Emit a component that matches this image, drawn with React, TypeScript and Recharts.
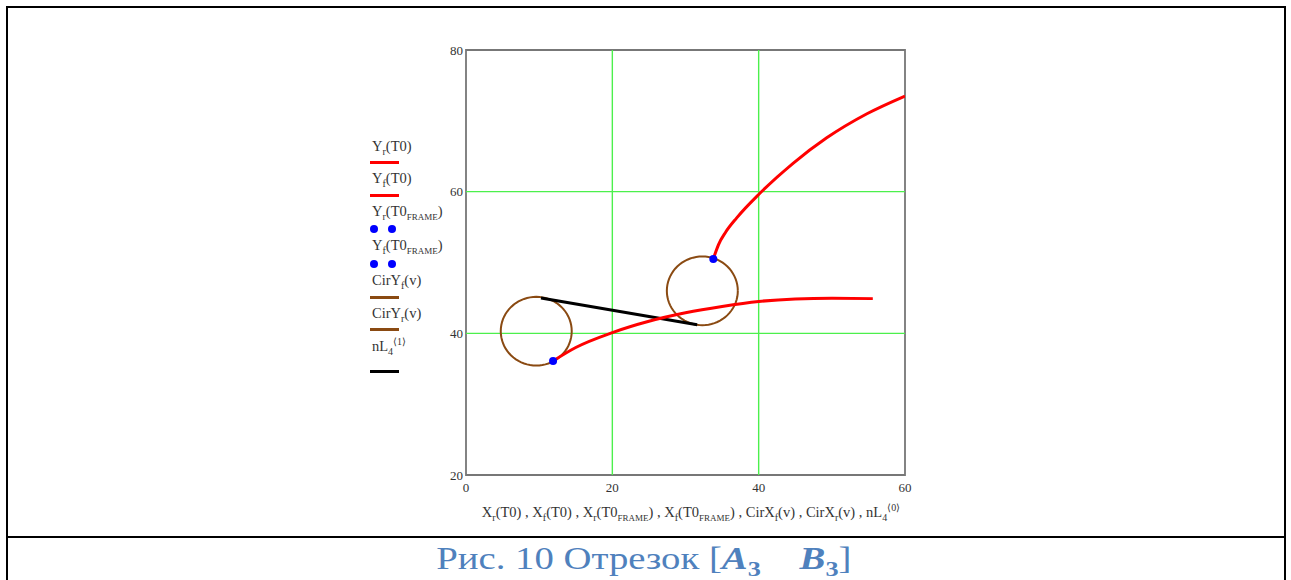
import React from 'react'
import { ComposedChart, Line, Scatter, XAxis, YAxis, ReferenceLine, ReferenceArea } from 'recharts'

// lower red curve (Y_f)
const lowX = [11.9, 15, 20, 25, 30, 35, 40, 45, 50, 55.6]
const lowY = [36.1, 38.0, 40.1, 41.7, 42.9, 43.8, 44.5, 44.85, 44.95, 44.9]

// upper red curve (Y_r)
const upX = [33.8, 34.5, 35.5, 37.0, 40.1, 44.7, 49.3, 54.8, 60.0]
const upY = [50.5, 52.5, 54.3, 56.3, 59.7, 64.0, 67.6, 71.0, 73.5]

// frame points
const frameX = [11.9, 33.8]
const frameY = [36.1, 50.5]

// circles: centre x, centre y, radius
const cirCx = [9.6, 32.3]
const cirCy = [40.3, 46.0]
const cirR = [4.85, 4.85]

// nL4 segment
const segX = [10.25, 31.6]
const segY = [45.0, 41.2]

const xTicks = [0, 20, 40, 60]
const yTicks = [20, 40, 60, 80]
const gridX = [20, 40]
const gridY = [40, 60]

const zip = (xs: number[], ys: number[]) => xs.map((x, i) => ({ x, y: ys[i] }))

function circlePts(i: number) {
  const pts = []
  for (let k = 0; k <= 72; k++) {
    const a = (k / 72) * Math.PI * 2
    pts.push({ x: cirCx[i] + cirR[i] * Math.cos(a), y: cirCy[i] + cirR[i] * Math.sin(a) })
  }
  return pts
}

const RED = '#ff0000'
const BLUE = '#0000ff'
const BROWN = '#8a4a12'
const GRID = '#4cf04c'
const TXT = '#333333'
const SERIF = '"Liberation Serif", "Times New Roman", serif'

const sub = { fontSize: 10, verticalAlign: 'sub' as const, lineHeight: 0 }
const sc = { fontSize: 9 }
const sup = { fontSize: 10, verticalAlign: 'super' as const, lineHeight: 0 }

function Dot(props: any) {
  const { cx, cy } = props
  return <circle cx={cx} cy={cy} r={4} fill={BLUE} />
}

function Swatch({ y, color, dots }: { y: number; color: string; dots?: boolean }) {
  if (dots) {
    return (
      <>
        <div style={{ position: 'absolute', left: 370, top: y - 4, width: 8, height: 8, borderRadius: 4, background: color }} />
        <div style={{ position: 'absolute', left: 388, top: y - 4, width: 8, height: 8, borderRadius: 4, background: color }} />
      </>
    )
  }
  return <div style={{ position: 'absolute', left: 370, top: y - 1.5, width: 29, height: 3, background: color }} />
}

function Label({ y, children }: { y: number; children: React.ReactNode }) {
  return (
    <div style={{ position: 'absolute', left: 372, top: y - 9, fontSize: 14.5, lineHeight: '18px', color: TXT, whiteSpace: 'nowrap' }}>
      {children}
    </div>
  )
}

export default function App() {
  return (
    <div style={{ position: 'absolute', left: 0, top: 0, width: 1291, height: 580, background: '#fff', fontFamily: SERIF, overflow: 'hidden' }}>
      {/* table borders */}
      <div style={{ position: 'absolute', left: 6, top: 6, width: 1276, height: 600, border: '2px solid #000' }} />
      <div style={{ position: 'absolute', left: 6, top: 536, width: 1280, height: 2, background: '#000' }} />

      <div style={{ position: 'absolute', left: 0, top: 0 }}>
        <ComposedChart width={1291} height={580} margin={{ top: 50, right: 386, bottom: 75, left: 436 }}>
          <XAxis
            type="number"
            dataKey="x"
            domain={[0, 60]}
            ticks={xTicks}
            allowDataOverflow
            axisLine={false}
            tickLine={false}
            tickSize={4}
            tickMargin={4}
            height={30}
            tick={{ fontSize: 13, fill: TXT, fontFamily: SERIF }}
          />
          <YAxis
            type="number"
            dataKey="y"
            domain={[20, 80]}
            ticks={yTicks}
            allowDataOverflow
            axisLine={false}
            tickLine={false}
            tickSize={2}
            tickMargin={1}
            width={30}
            tick={{ fontSize: 13, fill: TXT, fontFamily: SERIF }}
          />
          {gridX.map(v => (
            <ReferenceLine key={'gx' + v} x={v} stroke={GRID} strokeWidth={1.4} />
          ))}
          {gridY.map(v => (
            <ReferenceLine key={'gy' + v} y={v} stroke={GRID} strokeWidth={1.4} />
          ))}
          <ReferenceArea x1={0} x2={60} y1={20} y2={80} fill="none" fillOpacity={0} stroke="#777777" strokeWidth={1.8} />
          <Line data={circlePts(0)} dataKey="y" type="linear" stroke={BROWN} strokeWidth={2} dot={false} isAnimationActive={false} />
          <Line data={circlePts(1)} dataKey="y" type="linear" stroke={BROWN} strokeWidth={2} dot={false} isAnimationActive={false} />
          <Line data={zip(segX, segY)} dataKey="y" type="linear" stroke="#000" strokeWidth={3} dot={false} isAnimationActive={false} />
          <Line data={zip(lowX, lowY)} dataKey="y" type="monotone" stroke={RED} strokeWidth={3} dot={false} isAnimationActive={false} />
          <Line data={zip(upX, upY)} dataKey="y" type="monotone" stroke={RED} strokeWidth={3} dot={false} isAnimationActive={false} />
          <Scatter data={zip(frameX, frameY)} dataKey="y" shape={<Dot />} isAnimationActive={false} />
        </ComposedChart>
      </div>

      {/* legend */}
      <Label y={146}>Y<span style={sub}>r</span>(T0)</Label>
      <Swatch y={162} color={RED} />
      <Label y={178}>Y<span style={sub}>f</span>(T0)</Label>
      <Swatch y={195} color={RED} />
      <Label y={211}>Y<span style={sub}>r</span>(T0<span style={{ ...sub, ...sc }}>FRAME</span>)</Label>
      <Swatch y={229} color={BLUE} dots />
      <Label y={245}>Y<span style={sub}>f</span>(T0<span style={{ ...sub, ...sc }}>FRAME</span>)</Label>
      <Swatch y={264} color={BLUE} dots />
      <Label y={280}>CirY<span style={sub}>f</span>(v)</Label>
      <Swatch y={297} color={BROWN} />
      <Label y={313}>CirY<span style={sub}>r</span>(v)</Label>
      <Swatch y={329} color={BROWN} />
      <Label y={346}>
        nL<span style={sub}>4</span>
        <span style={sup}>⟨1⟩</span>
      </Label>
      <Swatch y={371} color="#000" />

      {/* x axis expression */}
      <div style={{ position: 'absolute', left: 691, top: 503, transform: 'translateX(-50%)', fontSize: 14.5, lineHeight: '18px', color: TXT, whiteSpace: 'nowrap' }}>
        X<span style={sub}>r</span>(T0) , X<span style={sub}>f</span>(T0) , X<span style={sub}>r</span>(T0<span style={{ ...sub, ...sc }}>FRAME</span>) , X
        <span style={sub}>f</span>(T0<span style={{ ...sub, ...sc }}>FRAME</span>) , CirX<span style={sub}>f</span>(v) , CirX<span style={sub}>r</span>(v) , nL
        <span style={sub}>4</span>
        <span style={sup}>⟨0⟩</span>
      </div>

      {/* caption */}
      <div style={{ position: 'absolute', left: 7, width: 1277, top: 542, textAlign: 'center', fontSize: 31, lineHeight: '34px', color: '#4f81bd', whiteSpace: 'nowrap', transform: 'scaleX(1.25)', transformOrigin: '645px 0' }}>
        Рис. 10 Отрезок [
        <b>
          <i>A</i>
          <span style={{ fontSize: 21, verticalAlign: 'sub', lineHeight: 0 }}>3</span>
        </b>
        {'\u00a0\u00a0\u00a0\u00a0'}
        <b>
          <i>B</i>
          <span style={{ fontSize: 21, verticalAlign: 'sub', lineHeight: 0 }}>3</span>
        </b>
        ]
      </div>
    </div>
  )
}
